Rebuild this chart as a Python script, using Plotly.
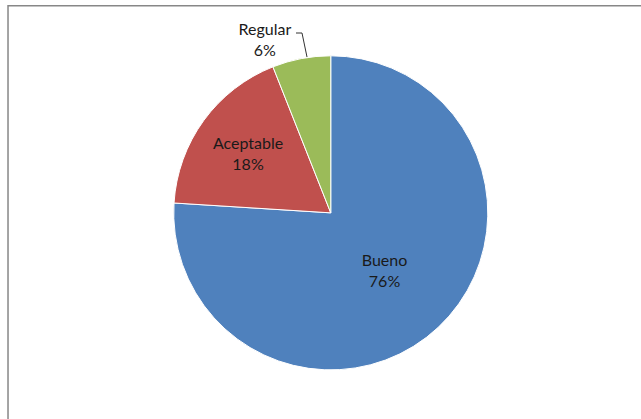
import plotly.graph_objects as go

# Data
labels = ["Bueno", "Aceptable", "Regular"]
values = [76, 18, 6]
colors = ["#4F81BD", "#C0504D", "#9BBB59"]
text_positions = ["inside", "inside", "outside"]

W, H = 641, 419

fig = go.Figure(go.Pie(
    labels=labels,
    values=values,
    sort=False,
    direction="clockwise",
    rotation=0,
    marker=dict(colors=colors, line=dict(color="white", width=1)),
    texttemplate="%{label}<br>%{percent:.0%}",
    textposition=text_positions,
    insidetextorientation="horizontal",
    textfont=dict(family="Lato", size=16, color="#1a1a1a"),
    showlegend=False,
    hoverinfo="label+percent",
    domain=dict(x=[0.271, 0.761], y=[0.117, 0.867]),
))

# Chart-area border (runs off the right and bottom edge in the original)
fig.add_shape(type="rect", xref="paper", yref="paper",
              x0=0.0125, x1=1.02, y0=-0.02, y1=0.9865,
              line=dict(color="#878787", width=1.5))

# leader line from the "Regular" label to its slice
fig.add_shape(type="path", xref="paper", yref="paper",
              path=f"M {296/W} {1-33/H} L {302/W} {1-33/H} L {307/W} {1-57/H}",
              line=dict(color="#333333", width=1))

fig.update_layout(
    width=W, height=H,
    margin=dict(l=0, r=0, t=0, b=0),
    paper_bgcolor="white",
    plot_bgcolor="white",
    font=dict(family="Lato"),
)

# drop the default page margin so the figure sits at the top-left corner
fig.write_html("out.html", config={"displayModeBar": False},
               post_script="document.body.style.margin='0';")
